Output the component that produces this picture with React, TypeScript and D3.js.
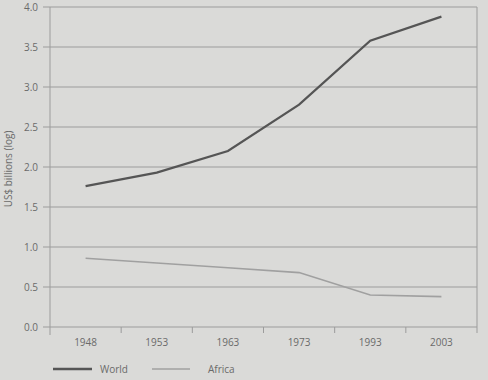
import React from "react";
import * as d3 from "d3";

const years = ["1948", "1953", "1963", "1973", "1993", "2003"];
const world = [1.76, 1.93, 2.2, 2.78, 3.58, 3.88];
const africa = [0.86, 0.8, 0.74, 0.68, 0.4, 0.38];
const yTicks = [0, 0.5, 1, 1.5, 2, 2.5, 3, 3.5, 4];

const W = 488;
const H = 380;
const left = 50;
const right = 477;
const top = 7;
const bottom = 327;

export default function App() {
  const x = d3.scaleBand().domain(years).range([left, right]).padding(0);
  const y = d3.scaleLinear().domain([0, 4]).range([bottom, top]);
  const cx = (d: string) => (x(d) as number) + x.bandwidth() / 2;
  const line = d3
    .line<number>()
    .x((_, i) => cx(years[i]))
    .y((v) => y(v));
  const font = "'Open Sans', 'Noto Sans', sans-serif";
  const edges = years.map((d) => x(d) as number).concat([right]);
  return (
    <svg
      width={W}
      height={H}
      style={{ position: "absolute", left: 0, top: 0, background: "#dadad8" }}
      fontFamily={font}
    >
      <rect x={0} y={0} width={W} height={H} fill="#dadad8" />
      {yTicks.map((t) => (
        <g key={t}>
          <line x1={43} x2={right} y1={y(t)} y2={y(t)} stroke="#9c9c9c" strokeWidth={1} />
          <text x={38} y={y(t)} dy="0.35em" textAnchor="end" fontSize={10} fill="#6a6a6a">
            {t.toFixed(1)}
          </text>
        </g>
      ))}
      <line x1={left} x2={left} y1={top} y2={335} stroke="#9c9c9c" strokeWidth={1} />
      <line x1={right} x2={right} y1={top} y2={bottom} stroke="#9c9c9c" strokeWidth={1} />
      {edges.slice(1).map((e, i) => (
        <line key={i} x1={e} x2={e} y1={bottom} y2={bottom + 6} stroke="#9c9c9c" strokeWidth={1} />
      ))}
      {years.map((d) => (
        <text key={d} x={cx(d)} y={bottom + 19} textAnchor="middle" fontSize={10} fill="#6a6a6a">
          {d}
        </text>
      ))}
      <text
        transform={`translate(12,${(top + bottom) / 2 + 2}) rotate(-90)`}
        textAnchor="middle"
        fontSize={10}
        fill="#6a6a6a"
      >
        US$ billions (log)
      </text>
      <path d={line(africa) || ""} fill="none" stroke="#a0a0a0" strokeWidth={1.6} />
      <path d={line(world) || ""} fill="none" stroke="#555555" strokeWidth={2.2} />
      <line x1={53} x2={92} y1={369} y2={369} stroke="#555555" strokeWidth={2.4} />
      <text x={100} y={369} dy="0.35em" fontSize={10} fill="#6a6a6a">World</text>
      <line x1={152} x2={190} y1={369} y2={369} stroke="#a0a0a0" strokeWidth={1.6} />
      <text x={208} y={369} dy="0.35em" fontSize={10} fill="#6a6a6a">Africa</text>
    </svg>
  );
}
